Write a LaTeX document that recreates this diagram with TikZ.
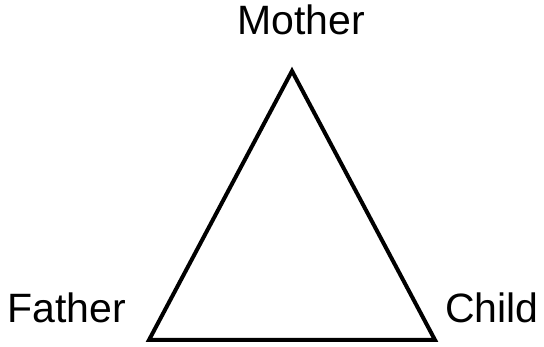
\documentclass[tikz,border=0pt]{standalone}
\usepackage{fontspec}
\setmainfont{Liberation Sans}
\begin{document}
\begin{tikzpicture}[x=1pt, y=-1pt,
  lbl/.style={font=\fontsize{41}{46}\selectfont, inner sep=0pt, anchor=base},
  ed/.style={draw=black, line width=4pt, line join=miter}]
\useasboundingbox (0,0) rectangle (544,347);
\coordinate (m) at (292,71);
\coordinate (f) at (149,340);
\coordinate (c) at (435,340);
\node[lbl] (tm) at (301,35) {Mother};
\node[lbl] (tf) at (67,323) {Father};
\node[lbl] (tc) at (492,323) {Child};
\draw[ed] (m)--(c)--(f)--cycle;
\end{tikzpicture}
\end{document}
